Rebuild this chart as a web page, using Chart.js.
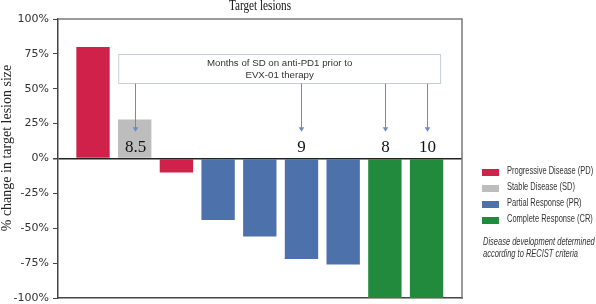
<!DOCTYPE html>
<html>
<head>
<meta charset="utf-8">
<script src="https://cdn.jsdelivr.net/npm/chart.js@4.4.0/dist/chart.umd.min.js"></script>
<style>
  html, body { margin: 0; padding: 0; background: #fff; }
  #wrap { position: relative; width: 596px; height: 304px; overflow: hidden; }
  #legend { position: absolute; left: 482px; top: 165px; font-family: "Liberation Sans", Arial, sans-serif; color: #333; }
  .row { position: relative; height: 16px; }
  .sw { position: absolute; left: 0; top: 4px; width: 17px; height: 7px; }
  .lt { position: absolute; left: 25px; top: 0px; font-size: 10px; white-space: nowrap; transform: scaleX(0.75); transform-origin: left center; }
  #note { position: absolute; left: 483px; top: 236px; font-family: "Liberation Sans", Arial, sans-serif; font-style: italic; font-size: 10px; color: #333; line-height: 12px; white-space: nowrap; transform: scaleX(0.75); transform-origin: left top; }
</style>
</head>
<body>
<div id="wrap">
  <canvas id="c" width="596" height="304"></canvas>
  <div id="legend"></div>
  <div id="note"></div>
</div>
<script>
// ---- data ----
const patients = ['1', '2', '3', '4', '5', '6', '7', '8', '9'];
const changePct = [80, 28, -10, -44, -56, -72, -76, -100, -100];
const response = ['PD', 'SD', 'PD', 'PR', 'PR', 'PR', 'PR', 'CR', 'CR'];
const sdMonths = [null, 8.5, null, null, null, 9, null, 8, 10];
const responseTypes = ['PD', 'SD', 'PR', 'CR'];
const responseLabels = ['Progressive Disease (PD)', 'Stable Disease (SD)', 'Partial Response (PR)', 'Complete Response (CR)'];
const responseColors = ['#d0214b', '#bdbdbd', '#4d71aa', '#228a3c'];
const yTicks = [100, 75, 50, 25, 0, -25, -50, -75, -100];
const chartTitle = 'Target lesions';
const yTitle = '% change in target lesion size';
const boxText = ['Months of SD on anti-PD1 prior to', 'EVX-01 therapy'];
const noteText = ['Disease development determined', 'according to RECIST criteria'];

const datasets = responseTypes.map((t, k) => ({
  label: responseLabels[k],
  backgroundColor: responseColors[k],
  data: patients.map((p, i) => response[i] === t ? { x: i + 1, y: changePct[i] } : null).filter(d => d),
  grouped: false,
  barPercentage: 0.8,
  categoryPercentage: 1.0
}));

const decor = {
  id: 'decor',
  afterDraw(chart) {
    const { ctx, chartArea: a, scales: { x, y } } = chart;
    ctx.save();
    // top/right frame
    ctx.strokeStyle = '#7a7a7a';
    ctx.lineWidth = 1.5;
    ctx.beginPath();
    ctx.moveTo(a.left, a.top);
    ctx.lineTo(a.right, a.top);
    ctx.lineTo(a.right, a.bottom + 1);
    ctx.stroke();
    // chart title
    ctx.fillStyle = '#111';
    ctx.font = '14px "Liberation Serif", serif';
    ctx.textAlign = 'center';
    ctx.textBaseline = 'alphabetic';
    ctx.save();
    ctx.translate((a.left + a.right) / 2, 9.5);
    ctx.scale(0.8, 1);
    ctx.fillText(chartTitle, 0, 0);
    ctx.restore();
    // y axis title
    ctx.save();
    ctx.translate(11, 148);
    ctx.rotate(-Math.PI / 2);
    ctx.font = '14px "Liberation Serif", serif';
    ctx.fillStyle = '#222';
    ctx.fillText(yTitle, 0, 0);
    ctx.restore();
    // annotation box
    const bl = x.getPixelForValue(2) - 16;
    const br = x.getPixelForValue(9) + 14;
    const bt = Math.round(y.getPixelForValue(75)) + 0.5;
    const bb = Math.round(y.getPixelForValue(54)) + 0.5;
    ctx.lineWidth = 1;
    ctx.fillStyle = '#fff';
    ctx.fillRect(bl, bt, br - bl, bb - bt);
    ctx.strokeStyle = '#c6cede';
    ctx.strokeRect(bl, bt, br - bl, bb - bt);
    ctx.fillStyle = '#333';
    ctx.font = '9.7px "Liberation Sans", Arial, sans-serif';
    ctx.textBaseline = 'middle';
    const cx = (bl + br) / 2, cy = (bt + bb) / 2;
    ctx.fillText(boxText[0], cx, cy - 6);
    ctx.fillText(boxText[1], cx, cy + 6);
    // arrows + numbers
    const tipY = y.getPixelForValue(19.5);
    sdMonths.forEach((m, i) => {
      if (m === null) return;
      const px = Math.round(x.getPixelForValue(i + 1)) + 0.5;
      ctx.strokeStyle = '#6b8cc2';
      ctx.fillStyle = '#6b8cc2';
      ctx.lineWidth = 1;
      ctx.beginPath();
      ctx.moveTo(px, bb);
      ctx.lineTo(px, tipY - 3);
      ctx.stroke();
      ctx.beginPath();
      ctx.moveTo(px - 2.8, tipY - 4);
      ctx.lineTo(px + 2.8, tipY - 4);
      ctx.lineTo(px, tipY + 0.5);
      ctx.closePath();
      ctx.fill();
      ctx.fillStyle = '#111';
      ctx.font = '17px "Liberation Serif", serif';
      ctx.textBaseline = 'alphabetic';
      ctx.textAlign = 'center';
      ctx.fillText(String(m), px, y.getPixelForValue(5));
    });
    ctx.restore();
  }
};

new Chart(document.getElementById('c'), {
  type: 'bar',
  data: { datasets },
  plugins: [decor],
  options: {
    responsive: false,
    animation: false,
    layout: { padding: { top: 19, right: 134, bottom: 6, left: 0 } },
    plugins: { legend: { display: false }, title: { display: false }, tooltip: { enabled: false } },
    scales: {
      x: {
        type: 'linear',
        offset: false,
        min: 0.16,
        max: 9.85,
        ticks: { display: false },
        grid: { display: false },
        border: { display: true, color: '#444', width: 1.5 },
        afterFit(s) { s.height = 0; s.paddingLeft = 0; s.paddingRight = 0; }
      },
      y: {
        min: -100,
        max: 100,
        z: 1,
        afterBuildTicks(s) { s.ticks = yTicks.map(v => ({ value: v })); },
        ticks: {
          callback: v => v + '%',
          font: { family: 'DejaVu Sans', size: 11 },
          color: '#333',
          padding: 4
        },
        grid: {
          drawOnChartArea: true,
          color: c => (c.tick && c.tick.value === 0) ? '#222' : 'rgba(0,0,0,0)',
          lineWidth: c => (c.tick && c.tick.value === 0) ? 1.5 : 1,
          tickColor: '#444',
          tickLength: 5
        },
        border: { display: true, color: '#444', width: 1.5 },
        afterFit(s) { s.width = 58; s.paddingTop = 0; s.paddingBottom = 0; }
      }
    }
  }
});

// HTML legend
const lg = document.getElementById('legend');
responseLabels.forEach((l, k) => {
  const r = document.createElement('div');
  r.className = 'row';
  r.innerHTML = '<span class="sw" style="background:' + responseColors[k] + '"></span><span class="lt"></span>';
  r.querySelector('.lt').textContent = l;
  lg.appendChild(r);
});
document.getElementById('note').innerHTML = noteText.map(t => t.replace(/&/g, '&amp;')).join('<br>');
</script>
</body>
</html>
